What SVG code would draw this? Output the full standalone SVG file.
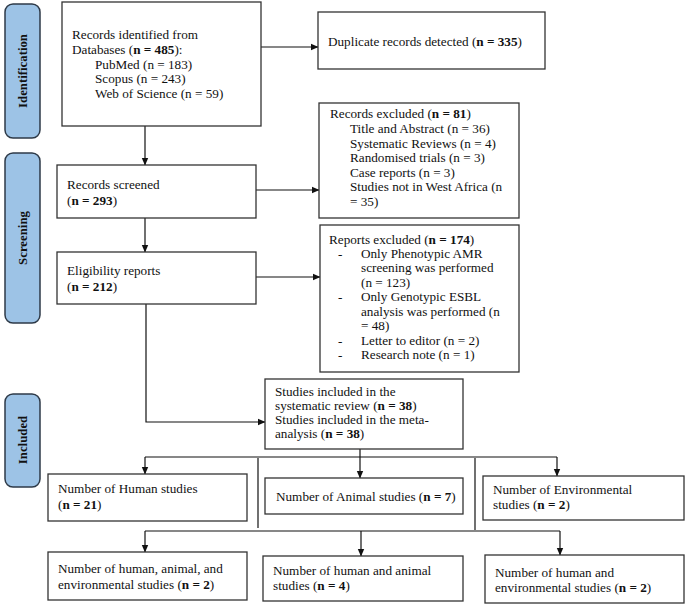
<svg xmlns="http://www.w3.org/2000/svg" width="685" height="604" viewBox="0 0 685 604">
<style>
.bg{fill:#ffffff}
.box{fill:#ffffff;stroke:#333333;stroke-width:1.3}
.side{fill:#9dc3e6;stroke:#2e3a48;stroke-width:1.5}
.t{font-family:'Liberation Serif','Times New Roman','DejaVu Serif',serif;font-size:13.2px;fill:#111111}
.s{font-family:'Liberation Serif','Times New Roman','DejaVu Serif',serif;font-size:12.8px;font-weight:bold;fill:#111111}
.b{font-weight:bold}
.ln{fill:none;stroke:#111111;stroke-width:1.2}
</style>
<defs>
<marker id="ah" markerWidth="8" markerHeight="8" refX="7" refY="4" orient="auto" markerUnits="userSpaceOnUse">
<path d="M0,0.8 L7.5,4 L0,7.2 Z" fill="#111111"/>
</marker>
</defs>
<rect class="bg" x="0" y="0" width="685" height="604"/>

<g id="side-identification">
<rect class="side" x="5" y="4" width="35" height="134" rx="8"/>
<text class="s" transform="translate(26.5,71) rotate(-90)" text-anchor="middle">Identification</text>
</g>
<g id="side-screening">
<rect class="side" x="5" y="153" width="35" height="170" rx="8"/>
<text class="s" transform="translate(26.5,238) rotate(-90)" text-anchor="middle">Screening</text>
</g>
<g id="side-included">
<rect class="side" x="5" y="394" width="35" height="93" rx="8"/>
<text class="s" transform="translate(26.5,440) rotate(-90)" text-anchor="middle">Included</text>
</g>

<g id="connectors">
<line class="ln" x1="261" y1="47" x2="318" y2="47" marker-end="url(#ah)"/>
<line class="ln" x1="145" y1="126" x2="145" y2="165" marker-end="url(#ah)"/>
<line class="ln" x1="256" y1="190" x2="319" y2="190" marker-end="url(#ah)"/>
<line class="ln" x1="145" y1="218" x2="145" y2="252" marker-end="url(#ah)"/>
<line class="ln" x1="256" y1="277" x2="320" y2="277" marker-end="url(#ah)"/>
<path class="ln" d="M146,304 V422 H265" marker-end="url(#ah)"/>
<line class="ln" x1="360" y1="449" x2="360" y2="478" marker-end="url(#ah)"/>
<line class="ln" x1="145" y1="457" x2="557" y2="457"/>
<line class="ln" x1="145" y1="457" x2="145" y2="474" marker-end="url(#ah)"/>
<line class="ln" x1="557" y1="457" x2="557" y2="476" marker-end="url(#ah)"/>
<line class="ln" x1="258" y1="458" x2="258" y2="528"/>
<line class="ln" x1="475" y1="458" x2="475" y2="530"/>
<line class="ln" x1="145" y1="531" x2="560" y2="531"/>
<line class="ln" x1="145" y1="531" x2="145" y2="552" marker-end="url(#ah)"/>
<line class="ln" x1="361" y1="531" x2="361" y2="556" marker-end="url(#ah)"/>
<line class="ln" x1="560" y1="531" x2="560" y2="555" marker-end="url(#ah)"/>
</g>

<g id="records-identified">
<rect class="box" x="62" y="2" width="199" height="124"/>
<text class="t" x="72" y="39">Records identified from</text>
<text class="t" x="72" y="54">Databases (<tspan class="b">n = 485</tspan>):</text>
<text class="t" x="95" y="68.5">PubMed (n = 183)</text>
<text class="t" x="95" y="83">Scopus (n = 243)</text>
<text class="t" x="95" y="97.5">Web of Science (n = 59)</text>
</g>

<g id="duplicates">
<rect class="box" x="318" y="12" width="227" height="57"/>
<text class="t" x="328" y="46">Duplicate records detected (<tspan class="b">n = 335</tspan>)</text>
</g>

<g id="records-excluded">
<rect class="box" x="319" y="103" width="200" height="115"/>
<text class="t" x="330" y="118">Records excluded (<tspan class="b">n = 81</tspan>)</text>
<text class="t" x="350" y="133">Title and Abstract (n = 36)</text>
<text class="t" x="350" y="148">Systematic Reviews (n = 4)</text>
<text class="t" x="350" y="162">Randomised trials (n = 3)</text>
<text class="t" x="350" y="177">Case reports (n = 3)</text>
<text class="t" x="350" y="191">Studies not in West Africa (n</text>
<text class="t" x="350" y="206">= 35)</text>
</g>

<g id="records-screened">
<rect class="box" x="57" y="165" width="199" height="53"/>
<text class="t" x="67" y="189">Records screened</text>
<text class="t" x="67" y="205">(<tspan class="b">n = 293</tspan>)</text>
</g>

<g id="eligibility">
<rect class="box" x="57" y="252" width="199" height="52"/>
<text class="t" x="67" y="275">Eligibility reports</text>
<text class="t" x="67" y="291">(<tspan class="b">n = 212</tspan>)</text>
</g>

<g id="reports-excluded">
<rect class="box" x="320" y="225" width="199" height="147"/>
<text class="t" x="329" y="244">Reports excluded (<tspan class="b">n = 174</tspan>)</text>
<text class="t" x="338" y="258">-</text>
<text class="t" x="361" y="258">Only Phenotypic AMR</text>
<text class="t" x="361" y="272">screening was performed</text>
<text class="t" x="361" y="287">(n = 123)</text>
<text class="t" x="338" y="301">-</text>
<text class="t" x="361" y="301">Only Genotypic ESBL</text>
<text class="t" x="361" y="316">analysis was performed (n</text>
<text class="t" x="361" y="330">= 48)</text>
<text class="t" x="338" y="345">-</text>
<text class="t" x="361" y="345">Letter to editor (n = 2)</text>
<text class="t" x="338" y="359">-</text>
<text class="t" x="361" y="359">Research note (n = 1)</text>
</g>

<g id="studies-included">
<rect class="box" x="265" y="379" width="198" height="70"/>
<text class="t" x="275" y="396">Studies included in the</text>
<text class="t" x="275" y="410">systematic review (<tspan class="b">n = 38</tspan>)</text>
<text class="t" x="275" y="424">Studies included in the meta-</text>
<text class="t" x="275" y="438">analysis (<tspan class="b">n = 38</tspan>)</text>
</g>

<g id="human">
<rect class="box" x="48" y="474" width="199" height="47"/>
<text class="t" x="58" y="493">Number of Human studies</text>
<text class="t" x="58" y="509">(<tspan class="b">n = 21</tspan>)</text>
</g>

<g id="animal">
<rect class="box" x="265" y="478" width="198" height="36"/>
<text class="t" x="276" y="501">Number of Animal studies (<tspan class="b">n = 7</tspan>)</text>
</g>

<g id="environmental">
<rect class="box" x="483" y="476" width="201" height="44"/>
<text class="t" x="493" y="494">Number of Environmental</text>
<text class="t" x="493" y="509">studies (<tspan class="b">n = 2</tspan>)</text>
</g>

<g id="human-animal-env">
<rect class="box" x="48" y="552" width="199" height="48"/>
<text class="t" x="58" y="573">Number of human, animal, and</text>
<text class="t" x="58" y="589">environmental studies (<tspan class="b">n = 2</tspan>)</text>
</g>

<g id="human-animal">
<rect class="box" x="263" y="556" width="200" height="45"/>
<text class="t" x="273" y="575">Number of human and animal</text>
<text class="t" x="273" y="590">studies (<tspan class="b">n = 4</tspan>)</text>
</g>

<g id="human-env">
<rect class="box" x="485" y="555" width="199" height="48"/>
<text class="t" x="495" y="577">Number of human and</text>
<text class="t" x="495" y="592">environmental studies (<tspan class="b">n = 2</tspan>)</text>
</g>
</svg>
